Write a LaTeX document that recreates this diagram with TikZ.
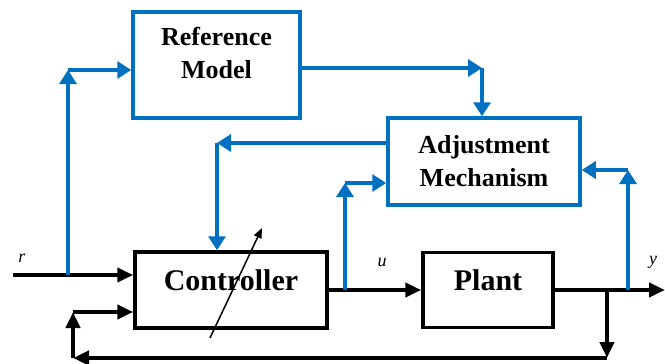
\documentclass[tikz,border=0pt]{standalone}
\usepackage{fontspec}
\setmainfont{Liberation Serif}
\usetikzlibrary{arrows.meta}
\definecolor{adjblue}{RGB}{0,112,192}

\begin{document}
\begin{tikzpicture}[x=1pt,y=-1pt,
  bluebox/.style={draw=adjblue,line width=3.5pt,inner sep=0pt},
  blackbox/.style={draw,line width=3.5pt,inner sep=0pt,text height=20pt,text depth=20pt,font=\bfseries\fontsize{30}{32}\selectfont},
  boxtxt/.style={align=center,font=\bfseries\fontsize{26}{33}\selectfont},
  bluearr/.style={adjblue,line width=4pt,-{Triangle[length=14pt,width=17pt]}},
  sigarr/.style={line width=4pt,-{Triangle[length=16pt,width=14pt]}},
  sigtxt/.style={font=\itshape\fontsize{18}{18}\selectfont}]
\useasboundingbox (0,0) rectangle (665,364);

% blocks
\node[bluebox,minimum width=167pt,minimum height=106pt] (refm) at (216.5,65) {};
\node[boxtxt] (refmtxt) at (216.5,53) {Reference\\Model};
\node[bluebox,boxtxt,minimum width=192pt,minimum height=87pt] (adj) at (484,161.5) {Adjustment\\Mechanism};
\node[blackbox,minimum width=192pt,minimum height=76pt] (ctrl) at (231,290) {Controller};
\node[blackbox,minimum width=130pt,minimum height=75pt] (plant) at (488,290) {Plant};

% branch points and corners
\coordinate (rin) at (13,275);
\coordinate (rbr) at (68,275);
\coordinate (rup) at (68,70);
\coordinate (refc) at (482,68);
\coordinate (adjc) at (217,143);
\coordinate (ubr) at (345,290);
\coordinate (uup) at (345,183);
\coordinate (ybr) at (628,290);
\coordinate (yup) at (628,170);
\coordinate (yout) at (665,290);
\coordinate (fbr) at (607,290);
\coordinate (fdn) at (607,358);
\coordinate (fleft) at (73,358);
\coordinate (fup) at (73,312);
\coordinate (tunelo) at (210,338);
\coordinate (tunehi) at (262,228);

% signal path
\draw[sigarr] (rin) -- (rin -| ctrl.west);
\draw[sigarr] (ctrl.east) -- (plant.west);
\draw[sigarr] (plant.east) -- (yout);
\draw[sigarr] (fbr) -- (fdn);
\draw[sigarr] (fdn) -- (fleft);
\draw[sigarr] (fleft) -- (fup);
\draw[sigarr] (fup) -- (fup -| ctrl.west);
\draw[line width=1.5pt,-{Triangle[length=10pt,width=8pt]}] (tunelo) -- (tunehi);

% adaptation loop
\draw[bluearr] (rbr) -- (rup);
\draw[bluearr] (rup) -- (rup -| refm.west);
\draw[bluearr] (refm.east |- refc) -- (refc);
\draw[bluearr] (refc) -- (refc |- adj.north);
\draw[bluearr] (adj.west |- adjc) -- (adjc);
\draw[bluearr] (adjc) -- (adjc |- ctrl.north);
\draw[bluearr] (ubr) -- (uup);
\draw[bluearr] (uup) -- (uup -| adj.west);
\draw[bluearr] (ybr) -- (yup);
\draw[bluearr] (yup) -- (yup -| adj.east);

\node[sigtxt] (rlbl) at (22,258) {r};
\node[sigtxt] (ulbl) at (382,262) {u};
\node[sigtxt] (ylbl) at (653,262) {y};
\end{tikzpicture}
\end{document}
